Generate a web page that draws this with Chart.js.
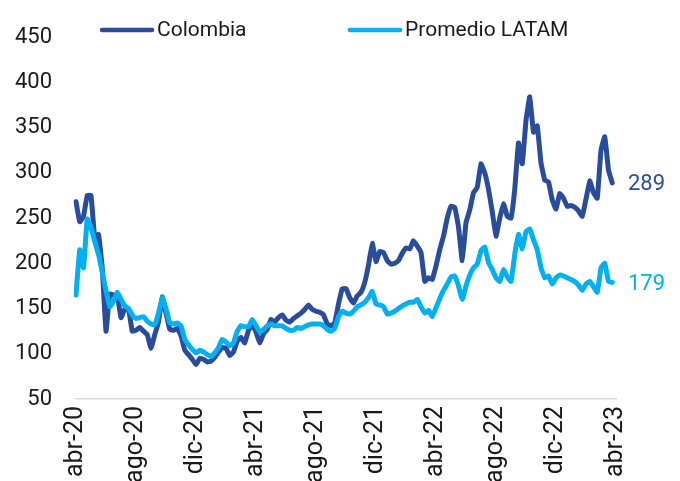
<!DOCTYPE html>
<html>
<head>
<meta charset="utf-8">
<script src="https://cdn.jsdelivr.net/npm/chart.js@4.4.1/dist/chart.umd.min.js"></script>
<style>
  html, body { margin: 0; padding: 0; overflow: hidden; background: #ffffff; }
  #wrap { width: 680px; height: 500px; }
</style>
</head>
<body>
<div id="wrap"><canvas id="c" width="680" height="500"></canvas></div>
<script>
// Axis tick labels, one every four months
const tickLabels = ['abr-20', 'ago-20', 'dic-20', 'abr-21', 'ago-21', 'dic-21', 'abr-22', 'ago-22', 'dic-22', 'abr-23'];

// Series names and colours
const seriesNames = ['Colombia', 'Promedio LATAM'];
const seriesColors = ['#2A4D9B', '#00B0F0'];

// Index values, one reading per quarter-month from abr-20
const colombia = [
  268, 246, 252, 275, 275, 228, 232, 195, 125, 166,
  165, 165, 140, 149, 150, 125, 126, 129, 125, 121,
  106, 121, 135, 163, 145, 127, 126, 128, 120, 104,
  99, 94, 88, 95, 94, 91, 92, 96, 102, 107,
  106, 98, 102, 114, 118, 112, 126, 132, 124, 112,
  122, 127, 138, 135, 140, 143, 137, 135, 139, 142,
  145, 149, 154, 149, 147, 146, 143, 133, 131, 134,
  155, 172, 172, 162, 156, 164, 168, 179, 198, 222,
  202, 213, 212, 203, 199, 200, 203, 211, 217, 216,
  225, 219, 212, 180, 184, 182, 197, 215, 230, 250,
  263, 262, 240, 203, 245, 259, 278, 284, 310, 300,
  282, 257, 230, 250, 266, 252, 250, 282, 333, 310,
  358, 384, 345, 352, 311, 292, 290, 270, 260, 277,
  272, 263, 264, 262, 258, 252, 271, 291, 278, 272,
  325, 340, 303, 289
];
const latam = [
  165, 215, 195, 249, 240, 224, 210, 190, 170, 152,
  158, 168, 160, 153, 150, 143, 139, 140, 141, 136,
  133, 132, 145, 162, 150, 134, 133, 134, 131, 116,
  110, 105, 101, 104, 102, 99, 97, 101, 107, 116,
  113, 109, 112, 125, 131, 130, 130, 138, 131, 124,
  127, 131, 133, 131, 131, 131, 128, 126, 126, 129,
  128, 130, 132, 133, 133, 133, 131, 127, 125, 128,
  141, 147, 145, 144, 147, 152, 154, 157, 162, 169,
  155, 154, 152, 144, 145, 147, 150, 153, 155, 157,
  157, 160, 152, 145, 148, 141, 151, 161, 170, 177,
  185, 186, 175, 160, 175, 187, 195, 199, 214, 218,
  201, 193, 184, 180, 193, 185, 180, 210, 232, 216,
  235, 238, 226, 215, 195, 184, 186, 177, 184, 187,
  186, 184, 182, 180, 176, 170, 177, 180, 174, 168,
  195, 200, 180, 179
];

// Category slots: four per month, sixteen between labelled ticks
const slotsPerTick = 16;
const slotCount = (tickLabels.length - 1) * slotsPerTick + 1;
const labels = Array.from({ length: slotCount }, (_, i) =>
  i % slotsPerTick === 0 ? tickLabels[i / slotsPerTick] : '');

const FONT = 'Roboto, "Liberation Sans", Arial, sans-serif';
const TEXT_COLOR = '#1a1a1a';
const CANVAS_H = 500;
const PLOT_BOTTOM = 399;

// Legend drawn across the top of the plot
const topLegend = {
  id: 'topLegend',
  afterDraw(chart) {
    const ctx = chart.ctx;
    const items = [{ x: 100 }, { x: 348 }];
    ctx.save();
    ctx.font = '21px ' + FONT;
    ctx.textBaseline = 'middle';
    ctx.textAlign = 'left';
    chart.data.datasets.forEach((ds, i) => {
      const x0 = items[i].x, y = 30;
      ctx.strokeStyle = ds.borderColor;
      ctx.lineWidth = 4.5;
      ctx.lineCap = 'round';
      ctx.beginPath();
      ctx.moveTo(x0 + 2, y);
      ctx.lineTo(x0 + 52, y);
      ctx.stroke();
      ctx.fillStyle = TEXT_COLOR;
      ctx.fillText(ds.label, x0 + 57, y + 1);
    });
    ctx.restore();
  }
};

// Last value written to the right of each line
const endLabels = {
  id: 'endLabels',
  afterDatasetsDraw(chart) {
    const ctx = chart.ctx;
    ctx.save();
    ctx.font = '22px ' + FONT;
    ctx.textBaseline = 'middle';
    ctx.textAlign = 'left';
    chart.data.datasets.forEach((ds, i) => {
      const meta = chart.getDatasetMeta(i);
      const last = meta.data[meta.data.length - 1];
      ctx.fillStyle = ds.borderColor;
      ctx.fillText(String(ds.data[ds.data.length - 1]), chart.chartArea.right + 12, last.y + 2);
    });
    ctx.restore();
  }
};

new Chart(document.getElementById('c'), {
  type: 'line',
  data: {
    labels: labels,
    datasets: [
      {
        label: seriesNames[0],
        data: colombia,
        borderColor: seriesColors[0],
        backgroundColor: seriesColors[0],
        borderWidth: 5,
        pointRadius: 0,
        tension: 0.1,
        borderJoinStyle: 'round',
        borderCapStyle: 'round',
        order: 1
      },
      {
        label: seriesNames[1],
        data: latam,
        borderColor: seriesColors[1],
        backgroundColor: seriesColors[1],
        borderWidth: 5,
        pointRadius: 0,
        tension: 0.1,
        borderJoinStyle: 'round',
        borderCapStyle: 'round',
        order: 0
      }
    ]
  },
  options: {
    responsive: false,
    animation: false,
    layout: { padding: { top: 33, right: 64, bottom: 0, left: 0 } },
    plugins: {
      legend: { display: false },
      tooltip: { enabled: false }
    },
    scales: {
      x: {
        type: 'category',
        offset: false,
        grid: { display: false, drawTicks: false },
        border: { display: true, color: '#d9d9d9', width: 1.5 },
        ticks: {
          autoSkip: false,
          minRotation: 90,
          maxRotation: 90,
          padding: 7,
          color: TEXT_COLOR,
          font: { family: FONT, size: 25 },
          callback: (v, i) => labels[i]
        },
        afterFit(scale) { scale.height = CANVAS_H - PLOT_BOTTOM; }
      },
      y: {
        min: 50,
        max: 450,
        grid: { display: false, drawTicks: false },
        border: { display: false },
        ticks: {
          stepSize: 50,
          padding: 24,
          color: TEXT_COLOR,
          font: { family: FONT, size: 22 }
        },
        afterFit(scale) { scale.width = 76; }
      }
    }
  },
  plugins: [topLegend, endLabels]
});
</script>
</body>
</html>
